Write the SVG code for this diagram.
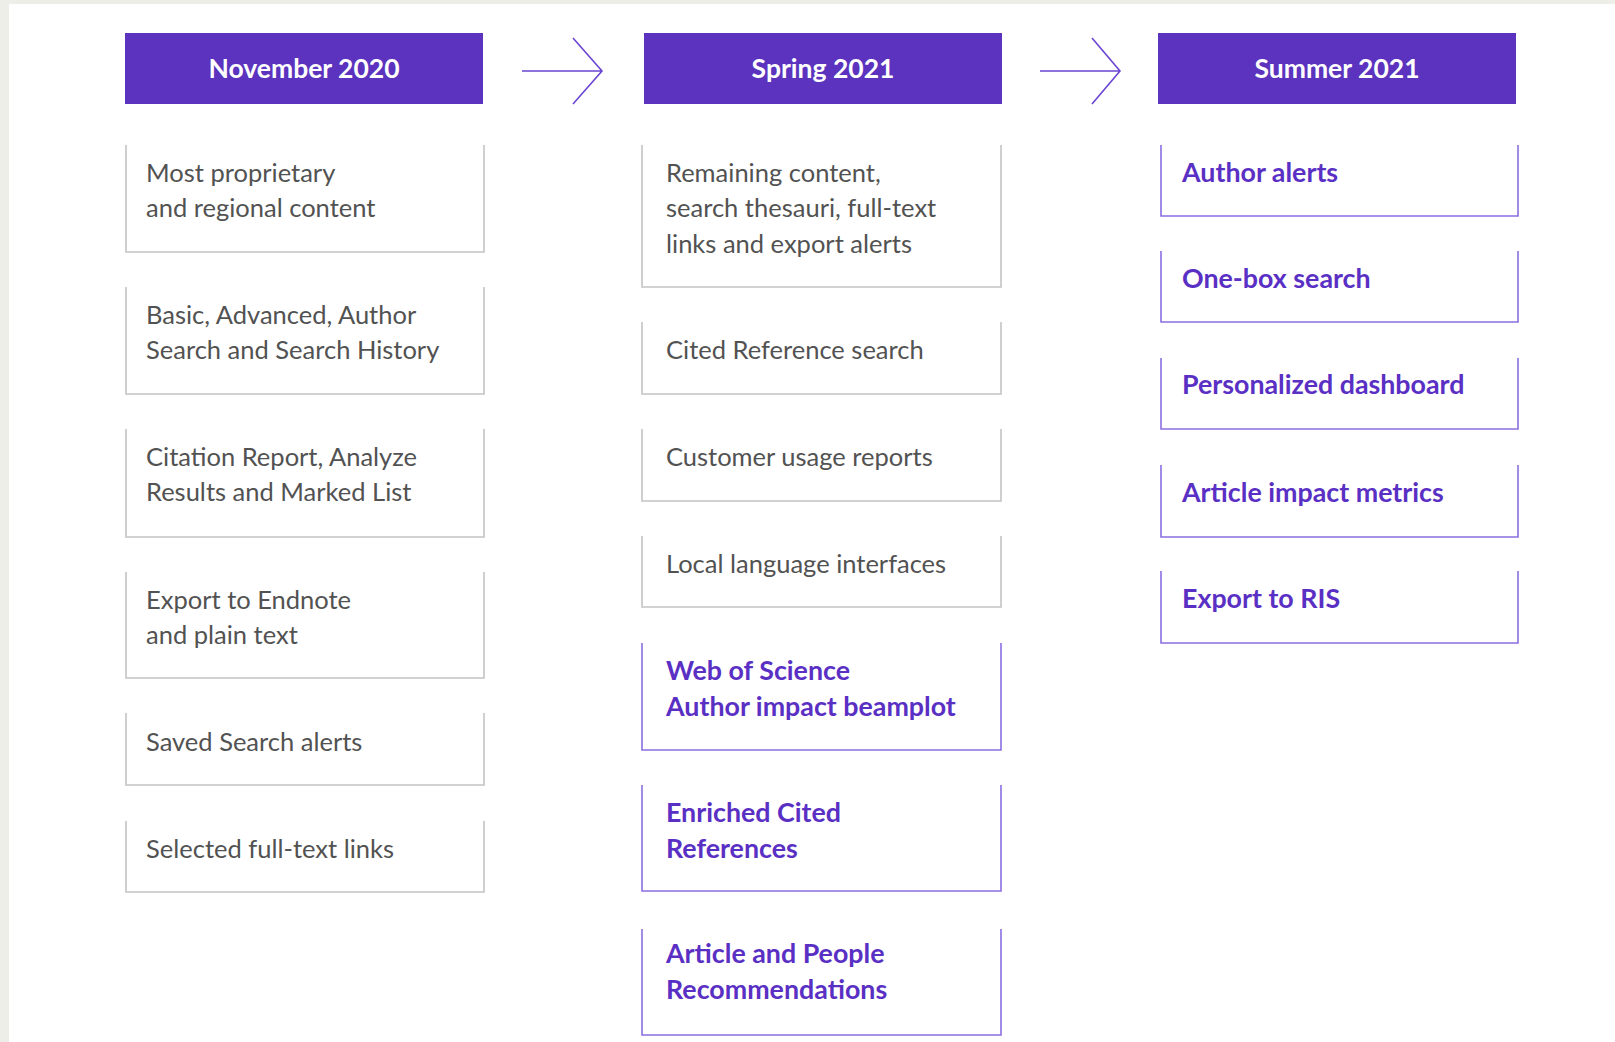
<svg xmlns="http://www.w3.org/2000/svg" width="1615" height="1042" viewBox="0 0 1615 1042">
<style>
.bg{fill:#ffffff}
.strip{fill:#eeeee9}
.hdr{fill:#5b33be}
.htxt{font-family:Lato,"Noto Sans",sans-serif;font-weight:700;font-size:26.5px;fill:#ffffff;text-anchor:middle}
.gbox{fill:none;stroke:#c4c4c4;stroke-width:1.6}
.pbox{fill:none;stroke:#8b6fe0;stroke-width:1.6}
.gt{font-family:Lato,"Noto Sans",sans-serif;font-weight:400;font-size:25.5px;fill:#525252}
.pt{font-family:Lato,"Noto Sans",sans-serif;font-weight:700;font-size:26.8px;fill:#5a30c4}
.arr{fill:none;stroke:#6a45d2;stroke-width:1.6}
</style>
<rect class="bg" x="0" y="0" width="1615" height="1042"/>
<rect class="strip" x="0" y="0" width="1615" height="4"/>
<rect class="strip" x="0" y="0" width="9" height="1042"/>

<g id="connectors">
  <path class="arr" d="M522 71 H602 M573 38 L602 71 L573 104"/>
  <path class="arr" d="M1040 71 H1120 M1092 38 L1120 71 L1092 104"/>
</g>

<g id="hdr-nov2020"><rect class="hdr" x="125" y="33" width="358" height="71"/><text class="htxt" x="304" y="78">November 2020</text></g>
<g id="hdr-spring2021"><rect class="hdr" x="644" y="33" width="358" height="71"/><text class="htxt" x="823" y="78">Spring 2021</text></g>
<g id="hdr-summer2021"><rect class="hdr" x="1158" y="33" width="358" height="71"/><text class="htxt" x="1337" y="78">Summer 2021</text></g>

<!-- Column 1 -->
<g id="c1b1"><path class="gbox" d="M126 145 V252 H484 V145"/><text class="gt" x="146" y="182">Most proprietary</text><text class="gt" x="146" y="217">and regional content</text></g>
<g id="c1b2"><path class="gbox" d="M126 287 V394 H484 V287"/><text class="gt" x="146" y="324">Basic, Advanced, Author</text><text class="gt" x="146" y="359">Search and Search History</text></g>
<g id="c1b3"><path class="gbox" d="M126 429 V537 H484 V429"/><text class="gt" x="146" y="466">Citation Report, Analyze</text><text class="gt" x="146" y="501">Results and Marked List</text></g>
<g id="c1b4"><path class="gbox" d="M126 572 V678 H484 V572"/><text class="gt" x="146" y="609">Export to Endnote</text><text class="gt" x="146" y="644">and plain text</text></g>
<g id="c1b5"><path class="gbox" d="M126 713 V785 H484 V713"/><text class="gt" x="146" y="751">Saved Search alerts</text></g>
<g id="c1b6"><path class="gbox" d="M126 821 V892 H484 V821"/><text class="gt" x="146" y="858">Selected full-text links</text></g>

<!-- Column 2 -->
<g id="c2b1"><path class="gbox" d="M642 145 V287 H1001 V145"/><text class="gt" x="666" y="182">Remaining content,</text><text class="gt" x="666" y="217">search thesauri, full-text</text><text class="gt" x="666" y="253">links and export alerts</text></g>
<g id="c2b2"><path class="gbox" d="M642 322 V394 H1001 V322"/><text class="gt" x="666" y="359">Cited Reference search</text></g>
<g id="c2b3"><path class="gbox" d="M642 429 V501 H1001 V429"/><text class="gt" x="666" y="466">Customer usage reports</text></g>
<g id="c2b4"><path class="gbox" d="M642 536 V607 H1001 V536"/><text class="gt" x="666" y="573">Local language interfaces</text></g>
<g id="c2b5"><path class="pbox" d="M642 643 V750 H1001 V643"/><text class="pt" x="666" y="680">Web of Science</text><text class="pt" x="666" y="716">Author impact beamplot</text></g>
<g id="c2b6"><path class="pbox" d="M642 785 V891 H1001 V785"/><text class="pt" x="666" y="822">Enriched Cited</text><text class="pt" x="666" y="858">References</text></g>
<g id="c2b7"><path class="pbox" d="M642 929 V1035 H1001 V929"/><text class="pt" x="666" y="963">Article and People</text><text class="pt" x="666" y="999">Recommendations</text></g>

<!-- Column 3 -->
<g id="c3b1"><path class="pbox" d="M1161 145 V216 H1518 V145"/><text class="pt" x="1182" y="182">Author alerts</text></g>
<g id="c3b2"><path class="pbox" d="M1161 251 V322 H1518 V251"/><text class="pt" x="1182" y="288">One-box search</text></g>
<g id="c3b3"><path class="pbox" d="M1161 358 V429 H1518 V358"/><text class="pt" x="1182" y="394">Personalized dashboard</text></g>
<g id="c3b4"><path class="pbox" d="M1161 465 V537 H1518 V465"/><text class="pt" x="1182" y="502">Article impact metrics</text></g>
<g id="c3b5"><path class="pbox" d="M1161 571 V643 H1518 V571"/><text class="pt" x="1182" y="608">Export to RIS</text></g>
</svg>
